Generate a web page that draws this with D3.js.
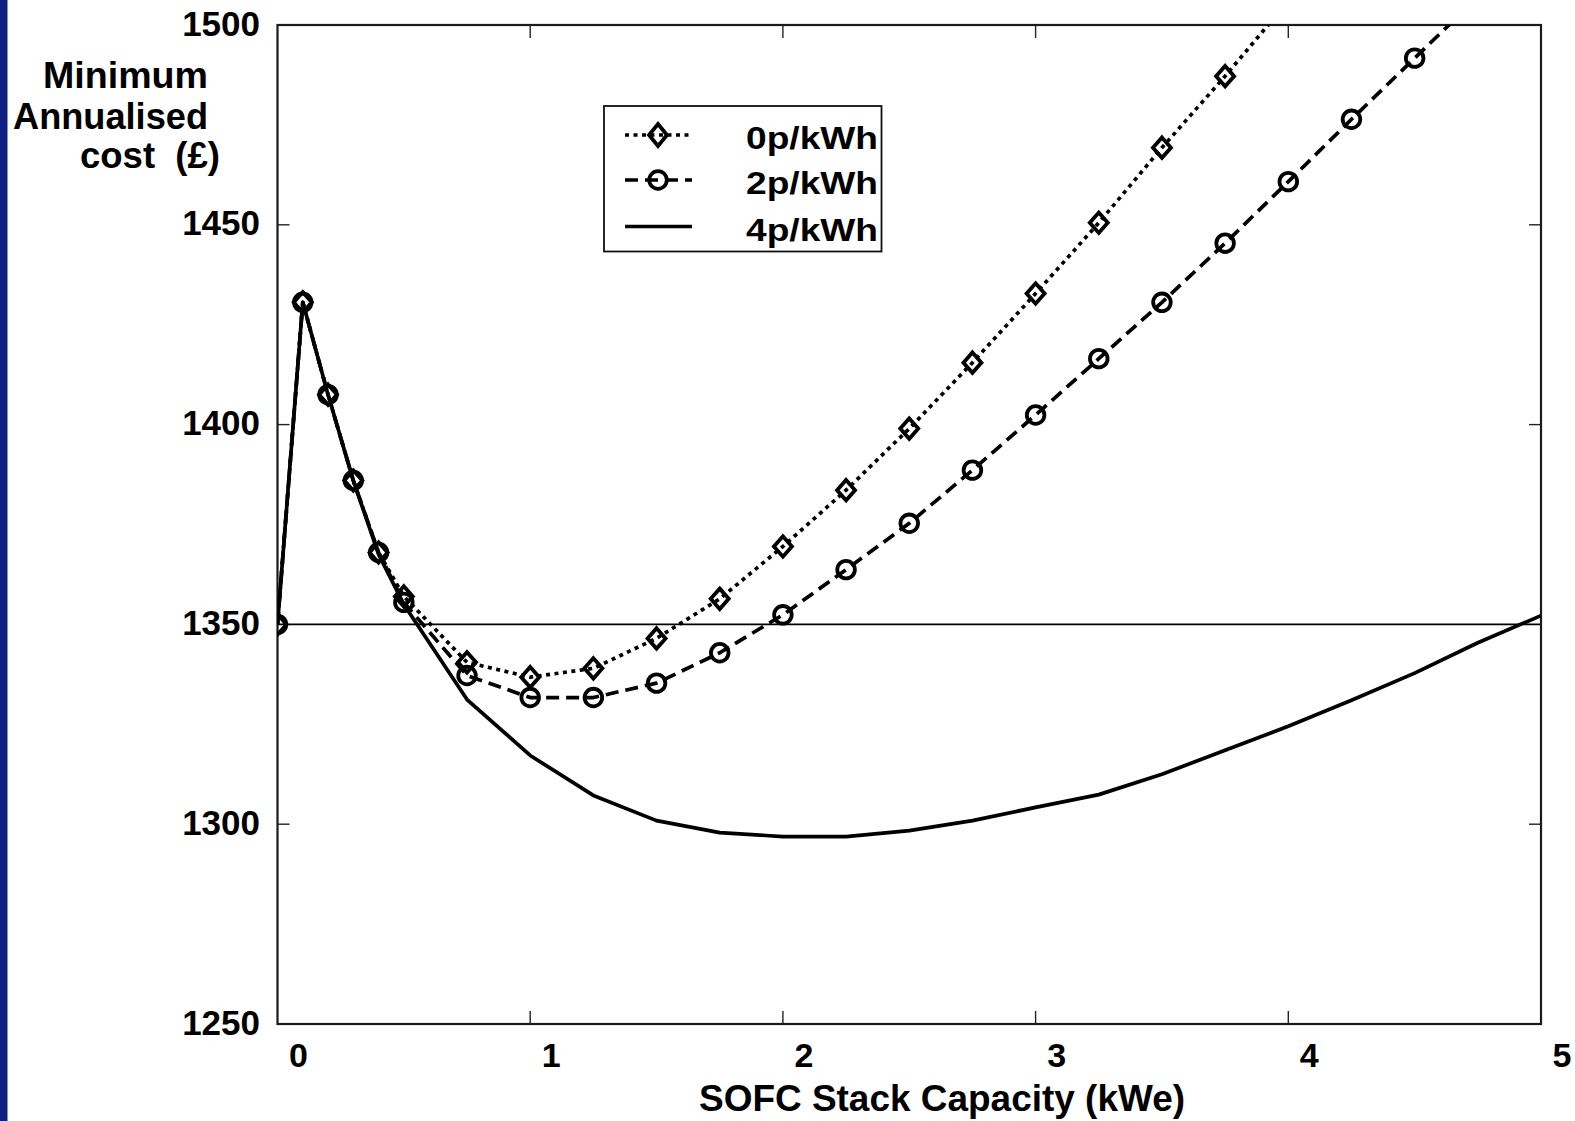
<!DOCTYPE html>
<html>
<head>
<meta charset="utf-8">
<script src="https://cdn.jsdelivr.net/npm/d3@7"></script>
<style>
  html, body { margin: 0; padding: 0; background: #ffffff; }
  svg { display: block; }
  text { font-family: "Liberation Sans", Arial, sans-serif; font-weight: bold; fill: #000; }
</style>
</head>
<body>
<svg id="chart" width="1575" height="1121"></svg>
<script>
// ---- data ----
const capacityKWe = [0, 0.1, 0.2, 0.3, 0.4, 0.5, 0.75, 1.0, 1.25, 1.5, 1.75, 2.0, 2.25, 2.5, 2.75, 3.0, 3.25, 3.5, 3.75, 4.0, 4.25, 4.5, 4.75, 5.0];
const cost0p = [1350, 1430.6, 1407.5, 1386, 1368, 1357, 1340.5, 1336.8, 1339, 1346.5, 1356.4, 1369.5, 1383.6, 1399, 1415.5, 1432.8, 1450.5, 1469.3, 1487.2, 1506];
const cost2p = [1350, 1430.6, 1407.5, 1386, 1368, 1355.5, 1337.2, 1331.7, 1331.7, 1335.3, 1342.9, 1352.4, 1363.7, 1375.3, 1388.6, 1402.4, 1416.5, 1430.6, 1445.4, 1460.8, 1476.4, 1491.7, 1507];
const cost4p = [1350, 1430.6, 1407.5, 1386, 1367.5, 1355, 1331.2, 1317.2, 1307.2, 1300.9, 1297.9, 1296.9, 1296.9, 1298.4, 1300.9, 1304.2, 1307.4, 1312.5, 1318.5, 1324.5, 1331, 1337.8, 1345.4, 1352.2];
const seriesNames = ["0p/kWh", "2p/kWh", "4p/kWh"];
const xTickValues = [0, 1, 2, 3, 4, 5];
const yTickValues = [1250, 1300, 1350, 1400, 1450, 1500];
const referenceCost = 1350;
const yTitleLines = ["Minimum", "Annualised", "cost  (£)"];
const xTitle = "SOFC Stack Capacity (kWe)";

// ---- layout ----
const plot = { left: 277.5, right: 1541, top: 25, bottom: 1024 };
const svg = d3.select("#chart");

const x = d3.scaleLinear().domain([0, 5]).range([plot.left, plot.right]);
const y = d3.scaleLinear().domain([1250, 1500]).range([plot.bottom, plot.top]);

// blue strip on the left edge
svg.append("rect").attr("x", 0).attr("y", 0).attr("width", 7.5).attr("height", 1121).attr("fill", "#10207f");

// clip path
svg.append("defs").append("clipPath").attr("id", "plotClip")
  .append("rect").attr("x", plot.left).attr("y", plot.top)
  .attr("width", plot.right - plot.left).attr("height", plot.bottom - plot.top);

// reference line at 1350
svg.append("line")
  .attr("x1", plot.left).attr("x2", plot.right)
  .attr("y1", y(referenceCost)).attr("y2", y(referenceCost))
  .attr("stroke", "#000").attr("stroke-width", 1.6);

// inward ticks
const tickG = svg.append("g").attr("stroke", "#222").attr("stroke-width", 1.4);
xTickValues.filter(v => v > 0 && v < 5).forEach(v => {
  tickG.append("line").attr("x1", x(v)).attr("x2", x(v)).attr("y1", plot.bottom).attr("y2", plot.bottom - 13);
  tickG.append("line").attr("x1", x(v)).attr("x2", x(v)).attr("y1", plot.top).attr("y2", plot.top + 13);
});
yTickValues.filter(v => v > 1250 && v !== referenceCost).forEach(v => {
  tickG.append("line").attr("x1", plot.left).attr("x2", plot.left + 12).attr("y1", y(v)).attr("y2", y(v));
  tickG.append("line").attr("x1", plot.right).attr("x2", plot.right - 12).attr("y1", y(v)).attr("y2", y(v));
});

// frame
svg.append("rect")
  .attr("x", plot.left).attr("y", plot.top)
  .attr("width", plot.right - plot.left).attr("height", plot.bottom - plot.top)
  .attr("fill", "none").attr("stroke", "#1a1a1a").attr("stroke-width", 2.2);

// tick labels
svg.append("g").selectAll("text").data(yTickValues).join("text")
  .attr("x", 260).attr("y", d => y(d) + 10.5)
  .attr("text-anchor", "end").attr("font-size", 35)
  .text(d => d);
svg.append("g").selectAll("text").data(xTickValues).join("text")
  .attr("x", d => x(d) + 21).attr("y", 1067)
  .attr("text-anchor", "middle").attr("font-size", 34)
  .text(d => d);

// axis titles
const yTitlePos = [{ x: 43, y: 88, w: 165 }, { x: 13, y: 129, w: 195 }, { x: 80, y: 168, w: 140 }];
svg.append("g").selectAll("text").data(yTitleLines).join("text")
  .attr("x", (d, i) => yTitlePos[i].x).attr("y", (d, i) => yTitlePos[i].y)
  .attr("font-size", 36).style("white-space", "pre")
  .attr("textLength", (d, i) => yTitlePos[i].w).attr("lengthAdjust", "spacingAndGlyphs")
  .text(d => d);
svg.append("text").attr("x", 942).attr("y", 1111).attr("text-anchor", "middle")
  .attr("font-size", 36).attr("textLength", 486).attr("lengthAdjust", "spacingAndGlyphs")
  .text(xTitle);

// series
const lineGen = d3.line().x(d => x(d[0])).y(d => y(d[1]));
const zip = vals => vals.map((v, i) => [capacityKWe[i], v]);
const data0 = zip(cost0p), data2 = zip(cost2p), data4 = zip(cost4p);

const series = [
  { data: data0, dash: "4,4.5", marker: "diamond" },
  { data: data2, dash: "13,7", marker: "circle" },
  { data: data4, dash: null, marker: null }
];

const plotG = svg.append("g").attr("clip-path", "url(#plotClip)");
const diamondPath = (cx, cy, hw, hh) => `M${cx},${cy - hh}L${cx + hw},${cy}L${cx},${cy + hh}L${cx - hw},${cy}Z`;

function drawMarker(g, type, cx, cy, legend) {
  if (type === "diamond") {
    g.append("path").attr("d", legend ? diamondPath(cx, cy, 9, 11) : diamondPath(cx, cy, 9, 10.2))
      .attr("fill", "none").attr("stroke", "#000").attr("stroke-width", 3.8).attr("stroke-linejoin", "miter");
  } else if (type === "circle") {
    g.append("circle").attr("cx", cx).attr("cy", cy).attr("r", 8.8)
      .attr("fill", "none").attr("stroke", "#000").attr("stroke-width", 3.8);
  }
}

// draw 4p first, then 2p, then 0p
[series[2], series[1], series[0]].forEach(s => {
  plotG.append("path").attr("d", lineGen(s.data))
    .attr("fill", "none").attr("stroke", "#000").attr("stroke-width", 3.7)
    .attr("stroke-dasharray", s.dash).attr("stroke-linejoin", "round");
  if (s.marker) s.data.forEach(d => drawMarker(plotG, s.marker, x(d[0]), y(d[1]), false));
});

// legend
const lg = svg.append("g");
lg.append("rect").attr("x", 604).attr("y", 106).attr("width", 277.5).attr("height", 145.5)
  .attr("fill", "#fff").attr("stroke", "#111").attr("stroke-width", 1.8);
const legendRows = [135, 180, 226.5];
series.forEach((s, i) => {
  const cy = legendRows[i];
  lg.append("line").attr("x1", 625).attr("x2", 692).attr("y1", cy).attr("y2", cy)
    .attr("stroke", "#000").attr("stroke-width", 3.7).attr("stroke-dasharray", s.dash);
  if (s.marker) drawMarker(lg, s.marker, 658, cy, true);
  lg.append("text").attr("x", 746).attr("y", cy + 14)
    .attr("font-size", 31).attr("textLength", 132).attr("lengthAdjust", "spacingAndGlyphs")
    .text(seriesNames[i]);
});
</script>
</body>
</html>
